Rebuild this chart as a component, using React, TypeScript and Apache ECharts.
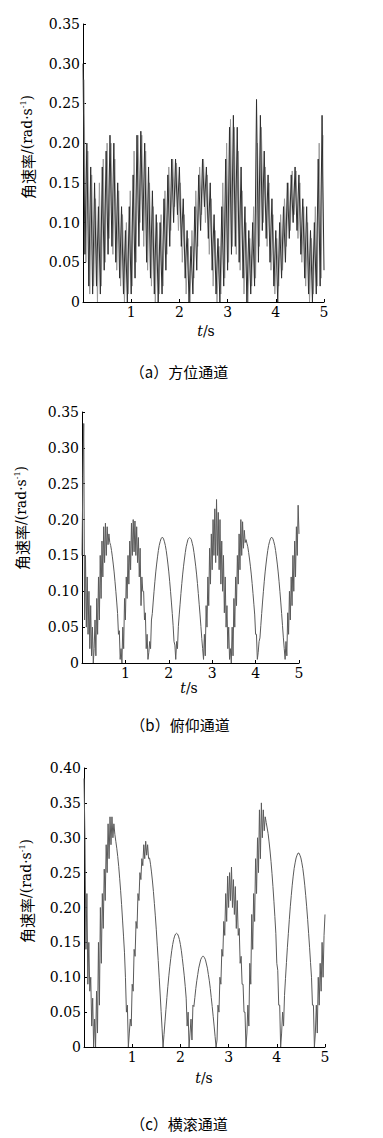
import React, { useEffect, useRef } from "react";
import * as echarts from "echarts";

// sampling steps (s)
const DT_A = 0.04; // each azimuth trace
const DT = 0.02; // pitch / roll traces

// (a) azimuth channel, dark trace, t = 0, 0.04, ... 5.00
const azimuthDark = [
  0.30, 0.06, 0.20, 0.02, 0.17, 0.01, 0.15, 0.02, 0.12, 0.01,
  0.17, 0.04, 0.19, 0.06, 0.21, 0.07, 0.20, 0.05, 0.15, 0.03,
  0.12, 0.01, 0.09, 0.00, 0.12, 0.01, 0.16, 0.03, 0.21, 0.07,
  0.215, 0.09, 0.20, 0.05, 0.17, 0.03, 0.14, 0.01, 0.11, 0.00,
  0.10, 0.01, 0.13, 0.04, 0.16, 0.07, 0.18, 0.10, 0.18, 0.11,
  0.17, 0.07, 0.13, 0.03, 0.09, 0.00, 0.07, 0.01, 0.12, 0.04,
  0.16, 0.09, 0.18, 0.12, 0.17, 0.08, 0.15, 0.04, 0.11, 0.01,
  0.08, 0.00, 0.12, 0.02, 0.18, 0.04, 0.22, 0.06, 0.235, 0.07,
  0.22, 0.05, 0.17, 0.03, 0.12, 0.00, 0.09, 0.01, 0.10, 0.02,
  0.255, 0.05, 0.235, 0.09, 0.19, 0.08, 0.16, 0.05, 0.13, 0.02,
  0.09, 0.00, 0.10, 0.03, 0.12, 0.05, 0.15, 0.08, 0.16, 0.10,
  0.17, 0.09, 0.16, 0.06, 0.13, 0.03, 0.12, 0.01, 0.09, 0.00,
  0.10, 0.01, 0.18, 0.02, 0.235, 0.04,
];

// (a) azimuth channel, light trace, t = 0.02, 0.06, ... 4.98
const azimuthLight = [
  0.28, 0.05, 0.19, 0.01, 0.16, 0.02, 0.13, 0.00, 0.15, 0.02,
  0.18, 0.05, 0.20, 0.08, 0.20, 0.06, 0.18, 0.04, 0.14, 0.02,
  0.11, 0.00, 0.10, 0.01, 0.14, 0.02, 0.19, 0.05, 0.21, 0.10,
  0.21, 0.07, 0.19, 0.04, 0.15, 0.02, 0.12, 0.00, 0.10, 0.01,
  0.11, 0.02, 0.14, 0.06, 0.17, 0.09, 0.18, 0.12, 0.175, 0.09,
  0.15, 0.05, 0.11, 0.01, 0.08, 0.00, 0.09, 0.03, 0.14, 0.07,
  0.17, 0.11, 0.18, 0.10, 0.16, 0.06, 0.13, 0.02, 0.09, 0.00,
  0.07, 0.01, 0.15, 0.03, 0.20, 0.05, 0.23, 0.07, 0.22, 0.06,
  0.19, 0.04, 0.14, 0.01, 0.10, 0.00, 0.08, 0.02, 0.12, 0.03,
  0.20, 0.07, 0.22, 0.10, 0.17, 0.07, 0.15, 0.04, 0.11, 0.01,
  0.08, 0.02, 0.11, 0.04, 0.13, 0.07, 0.15, 0.09, 0.165, 0.11,
  0.165, 0.08, 0.15, 0.05, 0.12, 0.02, 0.10, 0.00, 0.08, 0.01,
  0.12, 0.02, 0.20, 0.03, 0.21,
];

// (b) pitch channel, t = 0, 0.02, ... 5.00
const pitch = [
  0.15, 0.26, 0.334, 0.06, 0.15, 0.05, 0.12, 0.04, 0.10, 0.02, 0.08, 0.01, 0.05, 0.0, 0.02,
  0.06, 0.01, 0.09, 0.04, 0.12, 0.06, 0.15, 0.09, 0.17, 0.12, 0.19, 0.14, 0.195, 0.15, 0.19, 0.165, 0.18, 0.168,
  0.164, 0.157, 0.148, 0.138, 0.127, 0.114, 0.100, 0.085, 0.069,
  0.04, 0.045, 0.005, 0.02,
  0.0, 0.05, 0.02, 0.09, 0.06, 0.12, 0.09, 0.15, 0.11, 0.17, 0.13, 0.195, 0.15, 0.20, 0.155, 0.198,
  0.15, 0.19, 0.14, 0.175, 0.12, 0.16, 0.08, 0.12, 0.10, 0.10, 0.06, 0.07, 0.02, 0.04, 0.005, 0.015,
  0.03, 0.02, 0.06, 0.069, 0.085, 0.100, 0.114, 0.127, 0.138, 0.148, 0.157, 0.164, 0.169, 0.173, 0.175, 0.175,
  0.173, 0.169, 0.164, 0.157, 0.148, 0.138, 0.127, 0.114, 0.100, 0.085, 0.069, 0.052, 0.03, 0.025, 0.005,
  0.03, 0.02, 0.051, 0.067, 0.082, 0.097, 0.111, 0.124, 0.135, 0.145, 0.154, 0.162, 0.167, 0.172, 0.174, 0.175,
  0.174, 0.172, 0.167, 0.162, 0.154, 0.145, 0.135, 0.124, 0.111, 0.097, 0.082, 0.067, 0.051, 0.034, 0.02, 0.005,
  0.04, 0.01, 0.08, 0.05, 0.12, 0.08, 0.16, 0.11, 0.18, 0.13, 0.20, 0.15, 0.215, 0.14, 0.228, 0.15,
  0.21, 0.13, 0.20, 0.11, 0.17, 0.10, 0.15, 0.07, 0.12, 0.05, 0.08, 0.02, 0.05, 0.005, 0.02,
  0.0, 0.05, 0.01, 0.09, 0.05, 0.12, 0.08, 0.15, 0.11, 0.18, 0.13, 0.20, 0.15, 0.197, 0.16, 0.185,
  0.168, 0.172, 0.167, 0.162, 0.154, 0.145, 0.135, 0.124, 0.111, 0.097, 0.082, 0.067, 0.04, 0.04, 0.005, 0.015,
  0.03, 0.035, 0.052, 0.069, 0.085, 0.100, 0.114, 0.127, 0.138, 0.148, 0.157, 0.164, 0.169, 0.173, 0.175, 0.175,
  0.173, 0.169, 0.164, 0.157, 0.148, 0.138, 0.127, 0.114, 0.100, 0.085, 0.069, 0.052, 0.035, 0.02, 0.005,
  0.03, 0.01, 0.07, 0.04, 0.10, 0.06, 0.12, 0.08, 0.15, 0.10, 0.17, 0.12, 0.19, 0.15, 0.22, 0.18,
];

// (c) roll channel, t = 0, 0.02, ... 5.00
const roll = [
  0.385, 0.30, 0.14, 0.22, 0.09, 0.15, 0.08, 0.10, 0.03, 0.07, 0.0, 0.04, 0.0,
  0.08, 0.02, 0.15, 0.06, 0.20, 0.12, 0.22, 0.17, 0.255, 0.21, 0.29, 0.25, 0.32, 0.27, 0.33, 0.29, 0.33, 0.30, 0.32, 0.305,
  0.295, 0.285, 0.273, 0.259, 0.242, 0.224, 0.204, 0.182, 0.159, 0.135,
  0.10, 0.05, 0.06, 0.0, 0.02,
  0.04, 0.03, 0.09, 0.08, 0.14, 0.13, 0.18, 0.17, 0.22, 0.21, 0.25, 0.24, 0.27, 0.26, 0.29, 0.27, 0.295, 0.275, 0.29, 0.27,
  0.271, 0.262, 0.251, 0.238, 0.223, 0.206, 0.188, 0.168, 0.146, 0.124, 0.100, 0.076, 0.051, 0.026, 0.0,
  0.018, 0.036, 0.054, 0.071, 0.087, 0.102, 0.115, 0.127, 0.138, 0.147, 0.154, 0.159, 0.162, 0.163,
  0.162, 0.159, 0.154, 0.147, 0.138, 0.127, 0.115, 0.102, 0.087, 0.07, 0.03, 0.05, 0.0, 0.02,
  0.04, 0.01, 0.06, 0.058, 0.071, 0.084, 0.095, 0.104, 0.113, 0.119, 0.125, 0.128, 0.130, 0.130,
  0.128, 0.125, 0.119, 0.113, 0.104, 0.095, 0.084, 0.071, 0.058, 0.044, 0.030, 0.015, 0.0,
  0.01, 0.06, 0.05, 0.10, 0.09, 0.14, 0.13, 0.18, 0.16, 0.22, 0.18, 0.245, 0.20, 0.25, 0.21, 0.258,
  0.20, 0.24, 0.19, 0.23, 0.17, 0.21, 0.16, 0.17, 0.12, 0.13, 0.09, 0.09, 0.05, 0.05, 0.0, 0.02,
  0.06, 0.03, 0.12, 0.09, 0.19, 0.14, 0.22, 0.18, 0.27, 0.22, 0.30, 0.25, 0.34, 0.27, 0.35, 0.30, 0.34, 0.31,
  0.33, 0.322, 0.314, 0.306, 0.294, 0.281, 0.266, 0.249, 0.230, 0.209, 0.187, 0.163, 0.12, 0.11, 0.06, 0.06, 0.0, 0.02,
  0.05, 0.03, 0.074, 0.098, 0.121, 0.143, 0.163, 0.183, 0.201, 0.217, 0.232, 0.245, 0.256, 0.264, 0.271, 0.275, 0.278,
  0.278, 0.275, 0.271, 0.264, 0.256, 0.245, 0.232, 0.217, 0.201, 0.183, 0.163, 0.143, 0.121, 0.10, 0.06, 0.06, 0.0, 0.02,
  0.06, 0.02, 0.10, 0.06, 0.12, 0.08, 0.15, 0.10, 0.16, 0.19,
];

const yMaxes = [0.35, 0.35, 0.4];
const captions = ["（a）方位通道", "（b）俯仰通道", "（c）横滚通道"];
const yAxisTitle = "{cn|角速率}{r|/(rad·s}{sup|-1}{r|)}";
const xAxisTitle = "{it|t}{r|/s}";

const SERIF = "DejaVu Serif";
const CJK = "Noto Sans CJK SC";

const panels = [
  { grid: { left: 83, top: 24, width: 241, height: 278 }, yName: [27, 147], xName: [206, 331], cap: [179, 371] },
  { grid: { left: 82, top: 412, width: 217, height: 251 }, yName: [21, 518], xName: [189, 688], cap: [180, 724] },
  { grid: { left: 84, top: 768, width: 241, height: 279 }, yName: [26, 891], xName: [204, 1078], cap: [179, 1123] },
];

export default function App() {
  const ref = useRef<HTMLDivElement>(null);

  useEffect(() => {
    document.body.style.margin = "0";
    if (!ref.current) return;
    const chart = echarts.init(ref.current, null, { renderer: "svg" });

    const axisCommon = {
      axisLine: { show: true, onZero: false, lineStyle: { color: "#000", width: 1 } },
      axisTick: { show: true, inside: true, length: 3, lineStyle: { color: "#000", width: 1 } },
      splitLine: { show: false },
    };

    const xAxis = panels.map((_, i) => ({
      type: "value",
      gridIndex: i,
      min: 0,
      max: 5,
      interval: 1,
      ...axisCommon,
      axisLabel: {
        showMinLabel: false,
        margin: 3,
        color: "#000",
        fontFamily: SERIF,
        fontSize: 14,
      },
    }));

    const yAxis = panels.map((_, i) => ({
      type: "value",
      gridIndex: i,
      min: 0,
      max: yMaxes[i],
      interval: 0.05,
      ...axisCommon,
      axisLabel: {
        margin: 3,
        color: "#000",
        fontFamily: SERIF,
        fontSize: 14,
        formatter: (v: number) => (Math.abs(v) < 1e-9 ? "0" : v.toFixed(2)),
      },
    }));

    const lineBase = {
      type: "line",
      showSymbol: false,
      symbol: "none",
      silent: true,
      clip: true,
    };

    const series = [
      {
        ...lineBase,
        name: "azimuth-light",
        xAxisIndex: 0,
        yAxisIndex: 0,
        data: azimuthLight.map((v, i) => [0.02 + i * DT_A, v]),
        lineStyle: { color: "#9a9a9a", width: 1 },
      },
      {
        ...lineBase,
        name: "azimuth-dark",
        xAxisIndex: 0,
        yAxisIndex: 0,
        data: azimuthDark.map((v, i) => [i * DT_A, v]),
        lineStyle: { color: "#2e2e2e", width: 1 },
      },
      {
        ...lineBase,
        name: "pitch",
        xAxisIndex: 1,
        yAxisIndex: 1,
        data: pitch.map((v, i) => [i * DT, v]),
        lineStyle: { color: "#5a5a5a", width: 1 },
      },
      {
        ...lineBase,
        name: "roll",
        xAxisIndex: 2,
        yAxisIndex: 2,
        data: roll.map((v, i) => [i * DT, v]),
        lineStyle: { color: "#5a5a5a", width: 1 },
      },
    ];

    const graphic: any[] = [];
    panels.forEach((p, i) => {
      graphic.push({
        type: "text",
        x: p.yName[0],
        y: p.yName[1],
        rotation: Math.PI / 2,
        silent: true,
        style: {
          text: yAxisTitle,
          fill: "#000",
          fontFamily: SERIF,
          fontSize: 14,
          align: "center",
          verticalAlign: "middle",
          rich: {
            cn: { fontFamily: CJK, fontSize: 15, fill: "#000" },
            r: { fontFamily: SERIF, fontSize: 14, fill: "#000" },
            sup: { fontFamily: SERIF, fontSize: 8, verticalAlign: "top", fill: "#000", padding: [0, 0, 8, 0] },
          },
        },
      });
      graphic.push({
        type: "text",
        x: p.xName[0],
        y: p.xName[1],
        silent: true,
        style: {
          text: xAxisTitle,
          fill: "#000",
          fontFamily: SERIF,
          fontSize: 14,
          align: "center",
          verticalAlign: "middle",
          rich: {
            it: { fontFamily: SERIF, fontSize: 14, fontStyle: "italic", fill: "#000" },
            r: { fontFamily: SERIF, fontSize: 14, fill: "#000" },
          },
        },
      });
      graphic.push({
        type: "text",
        x: p.cap[0],
        y: p.cap[1],
        silent: true,
        style: {
          text: captions[i],
          fill: "#000",
          fontFamily: CJK,
          fontSize: 15,
          align: "center",
          verticalAlign: "middle",
        },
      });
    });

    chart.setOption({
      animation: false,
      backgroundColor: "#fff",
      grid: panels.map((p) => ({ ...p.grid, containLabel: false })),
      xAxis,
      yAxis,
      series,
      graphic,
    });

    return () => chart.dispose();
  }, []);

  return <div ref={ref} style={{ width: 383, height: 1138 }} />;
}
